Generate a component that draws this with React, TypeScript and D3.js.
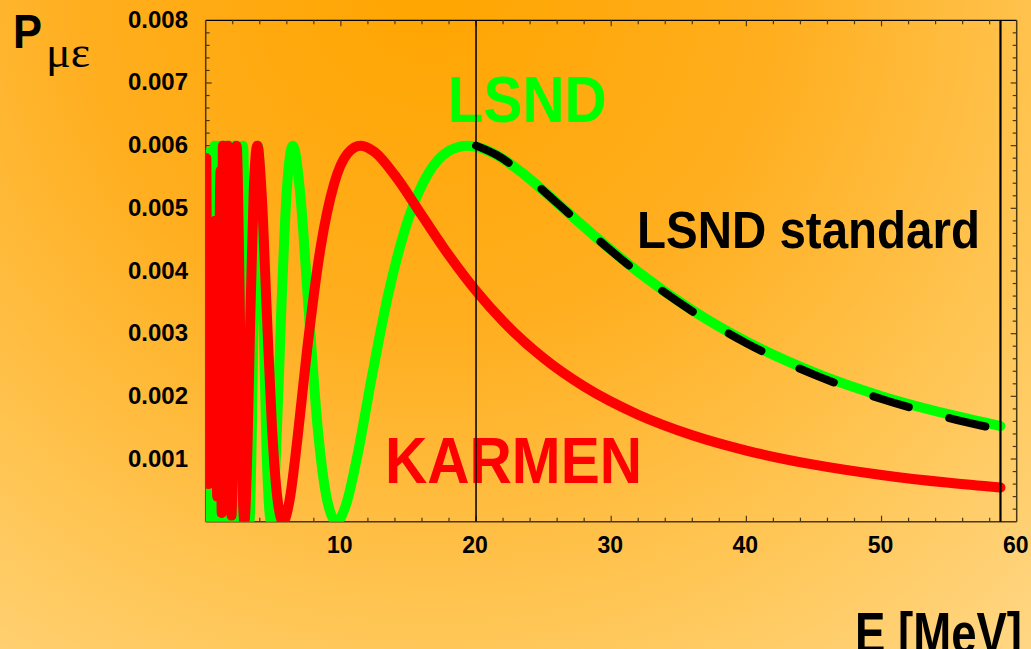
import React from "react";
import * as d3 from "d3";

// ---- data ----
const karmenE = [0.05, 0.2, 0.7, 0.85, 1.1, 1.18, 1.27, 1.43, 1.64, 1.91, 2.1, 2.29, 2.5, 2.65, 2.86, 3.1, 3.3, 3.55, 3.82, 4.15, 4.5, 4.9, 5.3, 5.73, 6.2, 6.8, 7.5, 8.5, 9.5, 10.5, 11.46, 12.5, 14, 16, 18, 20, 22, 25, 28, 32, 36, 40, 45, 50, 55, 58.8];
const karmenP = [0.0058, 0.0006, 0.0048, 0.0004, 0.0056, 0.00014, 0.006, 0.0002, 0.006, 0.0001, 0.0034, 0.006, 0.00378, 0.001346, 0, 0.001273, 0.003273, 0.005262, 0.006, 0.005194, 0.003437, 0.001522, 0.00038, 0, 0.000336, 0.00135, 0.002738, 0.004376, 0.005391, 0.005877, 0.006, 0.005898, 0.005525, 0.004885, 0.004249, 0.003682, 0.003197, 0.002609, 0.002156, 0.001707, 0.001379, 0.001135, 0.00091, 0.000745, 0.00062, 0.000545];

const lsndE = [0.03, 0.1, 0.3, 0.5, 0.65, 0.8, 0.93, 1.1, 1.29, 1.38, 1.49, 1.61, 1.76, 1.94, 2.15, 2.28, 2.42, 2.6, 2.76, 2.9, 3.05, 3.23, 3.4, 3.6, 3.87, 4.2, 4.5, 4.84, 5.2, 5.6, 6.0, 6.45, 7.0, 7.6, 8.3, 9.0, 9.68, 10.4, 11.2, 12.3, 13.5, 15, 16.5, 18, 19.35, 20, 21.5, 23.5, 26, 29, 32, 36, 40, 45, 50, 55, 58.8];
const lsndP = [0.0056, 0, 0.0059, 0, 0.006, 0, 0.006, 0, 0.006, 0, 0.006, 0, 0.006, 0, 0.006, 0.003, 0, 0.00353, 0.006, 0.004554, 0.001598, 0, 0.001273, 0.004106, 0.006, 0.00403, 0.001168, 0, 0.001077, 0.003425, 0.005288, 0.006, 0.005215, 0.003437, 0.001464, 0.000329, 0, 0.000283, 0.001031, 0.002322, 0.003622, 0.004835, 0.005569, 0.005916, 0.006, 0.005984, 0.005853, 0.005552, 0.005085, 0.004517, 0.003985, 0.003375, 0.002875, 0.002382, 0.002003, 0.001712, 0.001526];

const standardE = [20, 21.5, 23.5, 26, 29, 32, 36, 40, 45, 50, 55, 58.8];
const standardP = [0.006, 0.005853, 0.005552, 0.005085, 0.004507, 0.00397, 0.003355, 0.002848, 0.002347, 0.001958, 0.001655, 0.001466];

const markerE = [20, 58.8];

const xTickLabels = [10, 20, 30, 40, 50, 60];
const yTickLabels = [0.001, 0.002, 0.003, 0.004, 0.005, 0.006, 0.007, 0.008];

const W = 1031;
const H = 649;
const SANS = "'Liberation Sans', Arial, Helvetica, sans-serif";

export default function App() {
  const x = d3.scaleLinear().domain([0, 60]).range([205.7, 1016.7]);
  const y = d3.scaleLinear().domain([0, 0.008]).range([521.7, 20.3]);

  const line = d3
    .line<[number, number]>()
    .x((d) => x(d[0]))
    .y((d) => y(d[1]))
    .curve(d3.curveMonotoneX);

  const zip = (a: number[], b: number[]) => a.map((v, i) => [v, b[i]] as [number, number]);
  const karmen = line(zip(karmenE, karmenP)) || "";
  const lsnd = line(zip(lsndE, lsndP)) || "";
  const standard = line(zip(standardE, standardP)) || "";

  const xMinor = d3.range(2, 60, 2);
  const yMinor = d3.range(1, 40).map((i) => i * 0.0002);
  const isMajorX = (v: number) => Math.abs(v / 10 - Math.round(v / 10)) < 1e-6;
  const isMajorY = (v: number) => Math.abs(v / 0.001 - Math.round(v / 0.001)) < 1e-6;

  const [x0, x1] = x.range();
  const [y0, y1] = y.range();
  const axisCol = "#4a3812";

  return (
    <svg
      width={W}
      height={H}
      viewBox={`0 0 ${W} ${H}`}
      style={{ position: "absolute", left: 0, top: 0, display: "block" }}
    >
      <defs>
        <radialGradient id="bg" gradientUnits="userSpaceOnUse" cx={430} cy={-20} r={980}>
          <stop offset="0" stopColor="#FFA500" />
          <stop offset="0.35" stopColor="#FFAE1E" />
          <stop offset="0.65" stopColor="#FFC553" />
          <stop offset="1" stopColor="#FFDC93" />
        </radialGradient>
        <clipPath id="plot">
          <rect x={x0} y={y1} width={x1 - x0} height={y0 - y1} />
        </clipPath>
      </defs>
      <rect x={0} y={0} width={W} height={H} fill="url(#bg)" />

      {/* frame */}
      <line x1={x0} x2={x1} y1={y1} y2={y1} stroke="#000" strokeWidth={1.3} />
      <line x1={x0} x2={x0} y1={y1} y2={y0} stroke={axisCol} strokeWidth={1.5} />
      <line x1={x1} x2={x1} y1={y1} y2={y0} stroke={axisCol} strokeWidth={1.5} />
      <line x1={x0} x2={x1} y1={y0} y2={y0} stroke={axisCol} strokeWidth={1.5} />

      {/* x ticks bottom & top */}
      {xMinor.map((v) => {
        const len = isMajorX(v) ? 6 : 4;
        return (
          <g key={"xt" + v}>
            <line x1={x(v)} x2={x(v)} y1={y0} y2={y0 - len} stroke={axisCol} strokeWidth={1.2} />
            <line x1={x(v)} x2={x(v)} y1={y1} y2={y1 + len} stroke={axisCol} strokeWidth={1.2} />
          </g>
        );
      })}
      {/* y ticks left & right */}
      {yMinor.map((v) => {
        const len = isMajorY(v) ? 6 : 4;
        return (
          <g key={"yt" + v}>
            <line x1={x0} x2={x0 + len} y1={y(v)} y2={y(v)} stroke={axisCol} strokeWidth={1.2} />
            <line x1={x1} x2={x1 - len} y1={y(v)} y2={y(v)} stroke={axisCol} strokeWidth={1.2} />
          </g>
        );
      })}

      {/* tick labels */}
      {yTickLabels.map((v) => (
        <text
          key={"yl" + v}
          x={188}
          y={y(v) - 1}
          textAnchor="end"
          dominantBaseline="central"
          fontFamily={SANS}
          fontWeight="bold"
          fontSize={24}
          fill="#000"
        >
          {v.toFixed(3)}
        </text>
      ))}
      {xTickLabels.map((v) => (
        <text
          key={"xl" + v}
          x={x(v) - 1}
          y={552.7}
          textAnchor="middle"
          fontFamily={SANS}
          fontWeight="bold"
          fontSize={23}
          fill="#000"
        >
          {v}
        </text>
      ))}

      {/* curves */}
      <g clipPath="url(#plot)" fill="none" strokeLinecap="round" strokeLinejoin="round">
        <path d={lsnd} stroke="#00FF00" strokeWidth={10} />
        <path d={standard} stroke="#000" strokeWidth={8} strokeDasharray="37 42" />
        <path d={karmen} stroke="#FF0000" strokeWidth={10} />
      </g>

      {/* labels */}
      <text x={447.8} y={121.7} fontFamily={SANS} fontWeight="bold" fontSize={65} fill="#00FF00" textLength={159} lengthAdjust="spacingAndGlyphs">
        LSND
      </text>
      <text x={637} y={248.3} fontFamily={SANS} fontWeight="bold" fontSize={51} fill="#000" textLength={343} lengthAdjust="spacingAndGlyphs">
        LSND standard
      </text>
      <text x={385} y={482.7} fontFamily={SANS} fontWeight="bold" fontSize={64} fill="#FF0000" textLength={257} lengthAdjust="spacingAndGlyphs">
        KARMEN
      </text>
      <text x={13} y={48} fontFamily={SANS} fontWeight="bold" fontSize={49} fill="#000" textLength={29} lengthAdjust="spacingAndGlyphs">
        P
      </text>
      <text x={46} y={67} fontFamily="'Liberation Serif', 'Times New Roman', serif" fontSize={44} fill="#000" textLength={44} lengthAdjust="spacingAndGlyphs">
        με
      </text>
      <text x={855} y={653} fontFamily={SANS} fontWeight="bold" fontSize={58} fill="#000" textLength={167} lengthAdjust="spacingAndGlyphs">
        E [MeV]
      </text>

      {/* vertical markers */}
      {markerE.map((v, i) => (
        <line key={"m" + v} x1={x(v)} x2={x(v)} y1={y1} y2={y0} stroke="#000" strokeWidth={i === 0 ? 1.5 : 2.2} />
      ))}
    </svg>
  );
}
